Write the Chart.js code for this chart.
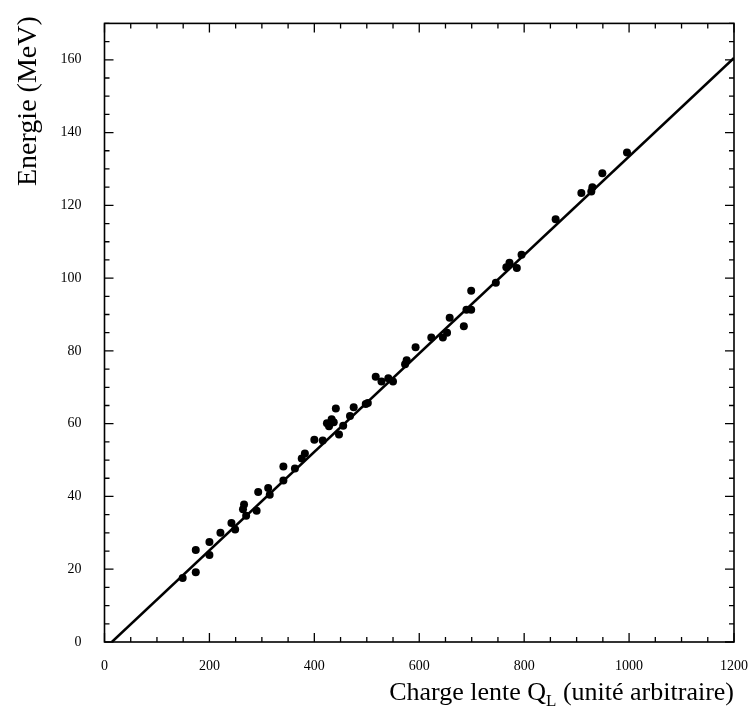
<!DOCTYPE html>
<html>
<head>
<meta charset="utf-8">
<script src="https://cdn.jsdelivr.net/npm/chart.js@4/dist/chart.umd.min.js"></script>
<style>
  html, body { margin: 0; padding: 0; background: #fff; }
  #wrap { width: 756px; height: 714px; }
</style>
</head>
<body>
<div id="wrap"><canvas id="chart" width="756" height="714"></canvas></div>
<script>
// Measured points: slow charge Q_L vs energy (MeV)
const chargeQ = [149, 174, 174, 200, 200, 221, 242, 249, 264, 266, 270, 290, 293, 312, 315, 341,
  341, 363, 376, 382, 400, 416, 424, 428, 433, 437, 441, 447, 455, 468, 475, 498, 502,
  517, 528, 541, 550, 573, 576, 593, 623, 645, 653, 658, 685, 690, 699, 699,
  746, 766, 772, 786, 795, 860, 909, 928, 930, 949, 996];
const energie = [17.6, 19.2, 25.3, 23.9, 27.5, 30.0, 32.7, 30.9, 36.5, 37.8, 34.7, 36.1, 41.2, 42.3, 40.5, 44.4,
  48.2, 47.7, 50.4, 51.8, 55.6, 55.4, 60.1, 59.3, 61.2, 60.4, 64.2, 57.0, 59.4, 62.1, 64.5, 65.4, 65.7,
  72.9, 71.6, 72.5, 71.6, 76.3, 77.4, 81.0, 83.7, 83.7, 85.0, 89.1, 86.8, 91.3, 96.5, 91.3,
  98.7, 103.0, 104.2, 102.8, 106.4, 116.2, 123.4, 123.8, 125.0, 128.8, 134.5];

// Linear calibration line
const fitQ = [14, 1200];
const fitE = [0, 160.5];

const xMin = 0, xMax = 1200, xStep = 200, xMinor = 50;
const yMin = 0, yMax = 170, yStep = 20, yMinor = 5;

const serif = '"Liberation Serif", "DejaVu Serif", serif';

// Frame, inward ticks and axis titles
const framePlugin = {
  id: 'frame',
  afterDraw(chart) {
    const { ctx, chartArea: a, scales: { x, y } } = chart;
    ctx.save();
    ctx.strokeStyle = '#000';
    ctx.lineWidth = 1.6;
    ctx.strokeRect(a.left, a.top, a.right - a.left, a.bottom - a.top);

    ctx.lineWidth = 1.3;
    ctx.beginPath();
    for (let v = xMin; v <= xMax; v += xMinor) {
      const px = x.getPixelForValue(v);
      const len = v % xStep === 0 ? 9 : 5;
      ctx.moveTo(px, a.bottom); ctx.lineTo(px, a.bottom - len);
      ctx.moveTo(px, a.top); ctx.lineTo(px, a.top + len);
    }
    for (let v = yMin; v <= yMax; v += yMinor) {
      const py = y.getPixelForValue(v);
      const len = v % yStep === 0 ? 9 : 5;
      ctx.moveTo(a.left, py); ctx.lineTo(a.left + len, py);
      ctx.moveTo(a.right, py); ctx.lineTo(a.right - len, py);
    }
    ctx.stroke();

    ctx.fillStyle = '#000';
    ctx.textBaseline = 'alphabetic';

    // y title, top aligned
    ctx.save();
    ctx.translate(36, 186);
    ctx.rotate(-Math.PI / 2);
    ctx.font = '28px ' + serif;
    ctx.textAlign = 'left';
    ctx.fillText('Energie (MeV)', 0, 0);
    ctx.restore();

    // x title with subscript, right aligned
    const big = '26px ' + serif, small = '17px ' + serif;
    const p1 = 'Charge lente Q', sub = 'L', p2 = ' (unité arbitraire)';
    ctx.font = big;
    const w1 = ctx.measureText(p1).width, w3 = ctx.measureText(p2).width;
    ctx.font = small;
    const w2 = ctx.measureText(sub).width;
    const base = 700;
    let sx = a.right - (w1 + w2 + w3);
    ctx.textAlign = 'left';
    ctx.font = big;
    ctx.fillText(p1, sx, base);
    sx += w1;
    ctx.font = small;
    ctx.fillText(sub, sx, base + 6);
    sx += w2;
    ctx.font = big;
    ctx.fillText(p2, sx, base);
    ctx.restore();
  }
};

const points = chargeQ.map((q, i) => ({ x: q, y: energie[i] }));
const fitLine = fitQ.map((q, i) => ({ x: q, y: fitE[i] }));

new Chart(document.getElementById('chart'), {
  type: 'scatter',
  data: {
    datasets: [
      {
        label: 'Mesures',
        data: points,
        backgroundColor: '#000',
        borderColor: '#000',
        pointRadius: 4,
        pointBorderWidth: 0
      },
      {
        label: 'Ajustement',
        data: fitLine,
        showLine: true,
        borderColor: '#000',
        borderWidth: 2.5,
        pointRadius: 0,
        fill: false
      }
    ]
  },
  options: {
    responsive: false,
    animation: false,
    layout: { padding: { top: 12, right: 21, left: 0, bottom: 0 } },
    plugins: {
      legend: { display: false },
      tooltip: { enabled: false }
    },
    scales: {
      x: {
        type: 'linear',
        min: xMin,
        max: xMax,
        grid: { display: false },
        border: { display: false },
        afterFit: (s) => { s.height = 72; },
        ticks: {
          stepSize: xStep,
          maxRotation: 0,
          padding: 8,
          color: '#000',
          font: { family: serif, size: 14 },
          callback: (v) => String(v)
        }
      },
      y: {
        type: 'linear',
        min: yMin,
        max: yMax,
        grid: { display: false },
        border: { display: false },
        afterFit: (s) => { s.width = 104.5; },
        ticks: {
          stepSize: yStep,
          includeBounds: false,
          padding: 15,
          color: '#000',
          font: { family: serif, size: 14 },
          callback: (v) => String(v)
        }
      }
    }
  },
  plugins: [framePlugin]
});
</script>
</body>
</html>
